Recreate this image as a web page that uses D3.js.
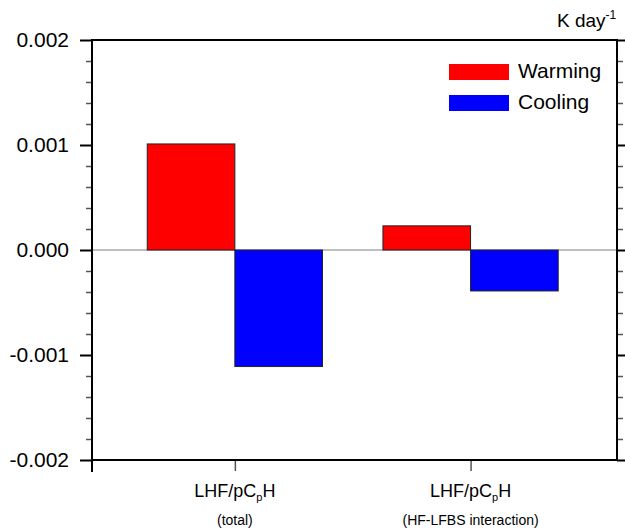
<!DOCTYPE html>
<html>
<head>
<meta charset="utf-8">
<script src="https://cdn.jsdelivr.net/npm/d3@7"></script>
<style>
  body { margin: 0; background: #fff; }
  svg { display: block; font-family: "Liberation Sans", Arial, Helvetica, sans-serif; }
</style>
</head>
<body>
<div class="container"></div>
<script>
// chart values
var categories = ["total", "HF-LFBS interaction"];
var categoryPos = [1.01, 2];
var seriesNames = ["Warming", "Cooling"];
var warming = [0.00101, 0.00023];
var cooling = [-0.00111, -0.00039];
var yTicks = [-0.002, -0.001, 0, 0.001, 0.002];
var yMinorTicks = [-0.0018, -0.0016, -0.0014, -0.0012, -0.0008, -0.0006, -0.0004, -0.0002,
                   0.0002, 0.0004, 0.0006, 0.0008, 0.0012, 0.0014, 0.0016, 0.0018];
var colors = ["#ff0000", "#0000ff"];

const WIDTH = 625, HEIGHT = 531;
const LEFT = 92, RIGHT = 617, TOP = 40, BOTTOM = 460;
const BAR_W = 0.368;

var xScale = d3.scaleLinear().domain([0.41, 2.615]).range([LEFT, RIGHT]);
var yScale = d3.scaleLinear().domain([-0.002, 0.002]).range([BOTTOM, TOP]);

var svg = d3.select('.container').append('svg')
    .attr('width', WIDTH).attr('height', HEIGHT);

// zero reference line
svg.append('line')
    .attr('x1', LEFT).attr('x2', RIGHT)
    .attr('y1', yScale(0)).attr('y2', yScale(0))
    .attr('stroke', '#808080').attr('stroke-width', 1.2);

// bars
var series = [warming, cooling];
series.forEach(function (vals, s) {
    svg.append('g').selectAll('rect')
        .data(vals)
        .enter().append('rect')
        .attr('x', function (d, i) { return s == 0 ? xScale(categoryPos[i] - BAR_W) : xScale(categoryPos[i]); })
        .attr('width', function () { return xScale(BAR_W) - xScale(0); })
        .attr('y', function (d) { return yScale(Math.max(0, d)); })
        .attr('height', function (d) { return Math.abs(yScale(d) - yScale(0)); })
        .attr('fill', colors[s])
        .attr('stroke', '#222')
        .attr('stroke-width', 1);
});

// y axes, major and minor ticks, both sides
var styleAxis = function (g, color, width) {
    g.select('.domain').remove();
    g.selectAll('.tick line').attr('stroke', color).attr('stroke-width', width);
};

svg.append('g')
    .attr('transform', 'translate(' + LEFT + ',0)')
    .call(d3.axisLeft(yScale).tickValues(yMinorTicks).tickSize(6).tickFormat(''))
    .call(styleAxis, '#555', 1.5);

svg.append('g')
    .attr('transform', 'translate(' + RIGHT + ',0)')
    .call(d3.axisRight(yScale).tickValues(yMinorTicks).tickSize(6).tickFormat(''))
    .call(styleAxis, '#555', 1.5);

svg.append('g')
    .attr('transform', 'translate(' + RIGHT + ',0)')
    .call(d3.axisRight(yScale).tickValues(yTicks).tickSize(12).tickFormat(''))
    .call(styleAxis, '#000', 2);

var yAxis = svg.append('g')
    .attr('transform', 'translate(' + LEFT + ',0)')
    .call(d3.axisLeft(yScale).tickValues(yTicks).tickSize(12).tickPadding(11)
        .tickFormat(function (d) { return d.toFixed(3); }))
    .call(styleAxis, '#000', 2);
yAxis.selectAll('text')
    .attr('fill', '#000')
    .style('font-size', '21px')
    .style('font-family', '"Liberation Sans", Arial, Helvetica, sans-serif');

// x axis ticks
svg.append('g')
    .attr('transform', 'translate(0,' + BOTTOM + ')')
    .call(d3.axisBottom(xScale).tickValues(categoryPos).tickSize(11).tickFormat(''))
    .call(styleAxis, '#555', 1.5);

// frame
svg.append('rect')
    .attr('x', LEFT).attr('y', TOP)
    .attr('width', RIGHT - LEFT).attr('height', BOTTOM - TOP)
    .attr('fill', 'none').attr('stroke', '#000').attr('stroke-width', 2);
svg.append('line')
    .attr('x1', LEFT).attr('x2', LEFT)
    .attr('y1', BOTTOM).attr('y2', BOTTOM + 12)
    .attr('stroke', '#000').attr('stroke-width', 2);

// category labels
var xLabels = svg.append('g').selectAll('g')
    .data(categories)
    .enter().append('g')
    .attr('transform', function (d, i) { return 'translate(' + xScale(categoryPos[i]) + ',0)'; });

var main = xLabels.append('text')
    .attr('y', 497)
    .attr('text-anchor', 'middle')
    .style('font-size', '18px');
main.append('tspan').text('LHF/pC');
main.append('tspan').attr('dy', 4).style('font-size', '11px').text('p');
main.append('tspan').attr('dy', -4).text('H');

xLabels.append('text')
    .attr('y', 525)
    .attr('text-anchor', 'middle')
    .style('font-size', '14px')
    .text(function (d) { return '(' + d + ')'; });

// units
var units = svg.append('text')
    .attr('x', 557).attr('y', 27)
    .style('font-size', '19px');
units.append('tspan').text('K day');
units.append('tspan').attr('dy', -8).style('font-size', '12px').text('-1');

// legend
var legend = svg.append('g').selectAll('g')
    .data(seriesNames)
    .enter().append('g')
    .attr('transform', function (d, i) { return 'translate(0,' + (i * 31) + ')'; });

legend.append('rect')
    .attr('x', 449).attr('y', 64)
    .attr('width', 60).attr('height', 16)
    .attr('fill', function (d, i) { return colors[i]; });

legend.append('text')
    .attr('x', 518).attr('y', 78)
    .style('font-size', '21px')
    .text(function (d) { return d; });
</script>
</body>
</html>
